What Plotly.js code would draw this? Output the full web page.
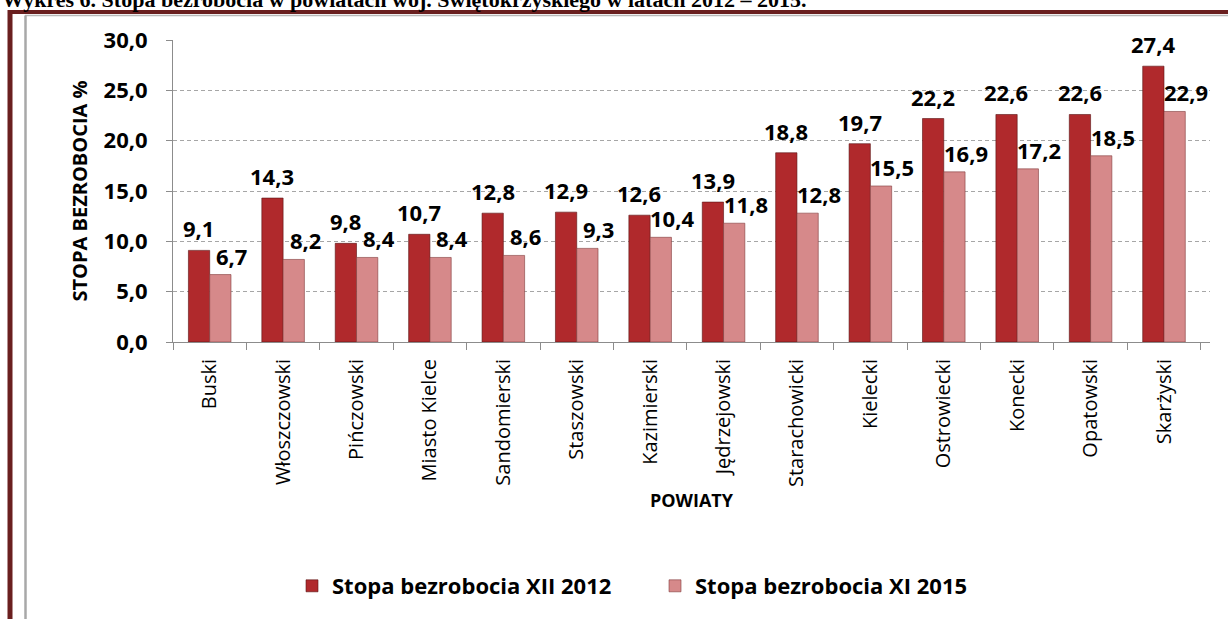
<!DOCTYPE html>
<html>
<head>
<meta charset="utf-8">
<script src="https://cdn.plot.ly/plotly-3.0.1.min.js"></script>
<style>
  html, body { margin: 0; padding: 0; background: #fff; }
  #chart { width: 1228px; height: 619px; }
</style>
</head>
<body>
<div id="chart"></div>
<script>
// Data
const powiaty = ['Buski', 'Włoszczowski', 'Pińczowski', 'Miasto Kielce', 'Sandomierski',
    'Staszowski', 'Kazimierski', 'Jędrzejowski', 'Starachowicki', 'Kielecki',
    'Ostrowiecki', 'Konecki', 'Opatowski', 'Skarżyski'];
const stopa2012 = [9.1, 14.3, 9.8, 10.7, 12.8, 12.9, 12.6, 13.9, 18.8, 19.7, 22.2, 22.6, 22.6, 27.4];
const stopa2015 = [6.7, 8.2, 8.4, 8.4, 8.6, 9.3, 10.4, 11.8, 12.8, 15.5, 16.9, 17.2, 18.5, 22.9];
const seriesNames = ['Stopa bezrobocia XII 2012', 'Stopa bezrobocia XI 2015'];
const yTicks = [0, 5, 10, 15, 20, 25, 30];

// Layout geometry (pixels)
const W = 1228, H = 619;
const M = { l: 173, r: 18, t: 40, b: 277 };
const plotW = W - M.l - M.r;
const plotH = H - M.t - M.b;
const px = p => (p - M.l) / plotW;
const py = q => (H - M.b - q) / plotH;

const FONT = 'Open Sans, sans-serif';
const darkRed = '#b0292c';
const lightRed = '#d6898a';
const maroon = '#6a1f1f';

function fmt(v) {
    return v.toFixed(1).replace('.', ',');
}

const traces = [
    {
        type: 'bar',
        name: seriesNames[0],
        x: powiaty,
        y: stopa2012,
        marker: { color: darkRed, line: { color: 'rgba(90,20,20,0.6)', width: 1 } },
        hoverinfo: 'skip'
    },
    {
        type: 'bar',
        name: seriesNames[1],
        x: powiaty,
        y: stopa2015,
        marker: { color: lightRed, line: { color: 'rgba(130,60,60,0.6)', width: 1 } },
        hoverinfo: 'skip'
    }
];

// value labels
const labelFont = { family: FONT, size: 22, color: '#000' };
const annotations = [];
powiaty.forEach((p, i) => {
    annotations.push({
        x: p, y: stopa2012[i], xref: 'x', yref: 'y',
        text: '<b>' + fmt(stopa2012[i]) + '</b>',
        showarrow: false, yanchor: 'middle', xshift: -10.75, yshift: 22,
        font: labelFont
    });
    annotations.push({
        x: p, y: stopa2015[i], xref: 'x', yref: 'y',
        text: '<b>' + fmt(stopa2015[i]) + '</b>',
        showarrow: false, yanchor: 'middle', xshift: 22, yshift: 19,
        font: labelFont
    });
});

// page heading, cut off at the top
annotations.push({
    xref: 'paper', yref: 'paper', x: px(0), y: py(14),
    xanchor: 'left', yanchor: 'bottom', showarrow: false,
    text: '<b>Wykres 6. Stopa bezrobocia w powiatach woj. Świętokrzyskiego w latach 2012 – 2015.</b>',
    font: { family: 'Liberation Serif, Times New Roman, serif', size: 22, color: '#000' }
});

// frame lines around the chart
const shapes = [
    { type: 'line', xref: 'paper', yref: 'paper', x0: px(8), x1: px(W), y0: py(12), y1: py(12),
      line: { color: maroon, width: 4 } },
    { type: 'line', xref: 'paper', yref: 'paper', x0: px(10), x1: px(10), y0: py(10), y1: py(H + 5),
      line: { color: maroon, width: 5 } },
    { type: 'line', xref: 'paper', yref: 'paper', x0: px(25), x1: px(W), y0: py(15.5), y1: py(15.5),
      line: { color: '#b8b8b8', width: 1.5 } },
    { type: 'line', xref: 'paper', yref: 'paper', x0: px(25.5), x1: px(25.5), y0: py(15.5), y1: py(H + 5),
      line: { color: '#a8a8a8', width: 2.5 } }
];

const layout = {
    width: W,
    height: H,
    margin: M,
    paper_bgcolor: '#fff',
    plot_bgcolor: '#fff',
    separators: ', ',
    barmode: 'group',
    bargap: 0.42,
    bargroupgap: 0,
    font: { family: FONT, color: '#000' },
    showlegend: true,
    legend: {
        orientation: 'h',
        x: px(292), xanchor: 'left',
        y: py(586), yanchor: 'middle',
        font: { family: FONT, size: 22, color: '#000', weight: 'bold' },
        entrywidth: 318,
        entrywidthmode: 'pixels',
        itemwidth: 30
    },
    xaxis: {
        type: 'category',
        automargin: false,
        showline: true,
        linecolor: '#8c8c8c',
        linewidth: 1,
        ticks: 'outside',
        tickson: 'boundaries',
        ticklen: 7,
        tickcolor: '#8c8c8c',
        tickangle: -90,
        ticklabelstandoff: 8,
        tickfont: { family: FONT, size: 20, color: '#000' },
        showgrid: false,
        title: {
            text: '<b>POWIATY</b>',
            font: { family: FONT, size: 18, color: '#000' },
            standoff: 8
        }
    },
    yaxis: {
        range: [0, 30],
        tickvals: yTicks,
        tickformat: '.1f',
        automargin: false,
        showline: true,
        linecolor: '#8c8c8c',
        linewidth: 1,
        ticks: 'outside',
        ticklen: 6,
        tickcolor: '#8c8c8c',
        ticklabelstandoff: 14,
        tickfont: { family: FONT, size: 22, color: '#000', weight: 'bold' },
        showgrid: true,
        gridcolor: '#a6a6a6',
        griddash: '4px,3px',
        gridwidth: 1,
        zeroline: false,
        title: {
            text: '<b>STOPA BEZROBOCIA %</b>',
            font: { family: FONT, size: 20, color: '#000' },
            standoff: 10
        }
    },
    annotations: annotations,
    shapes: shapes
};

Plotly.newPlot('chart', traces, layout, { displayModeBar: false, staticPlot: true });
</script>
</body>
</html>
